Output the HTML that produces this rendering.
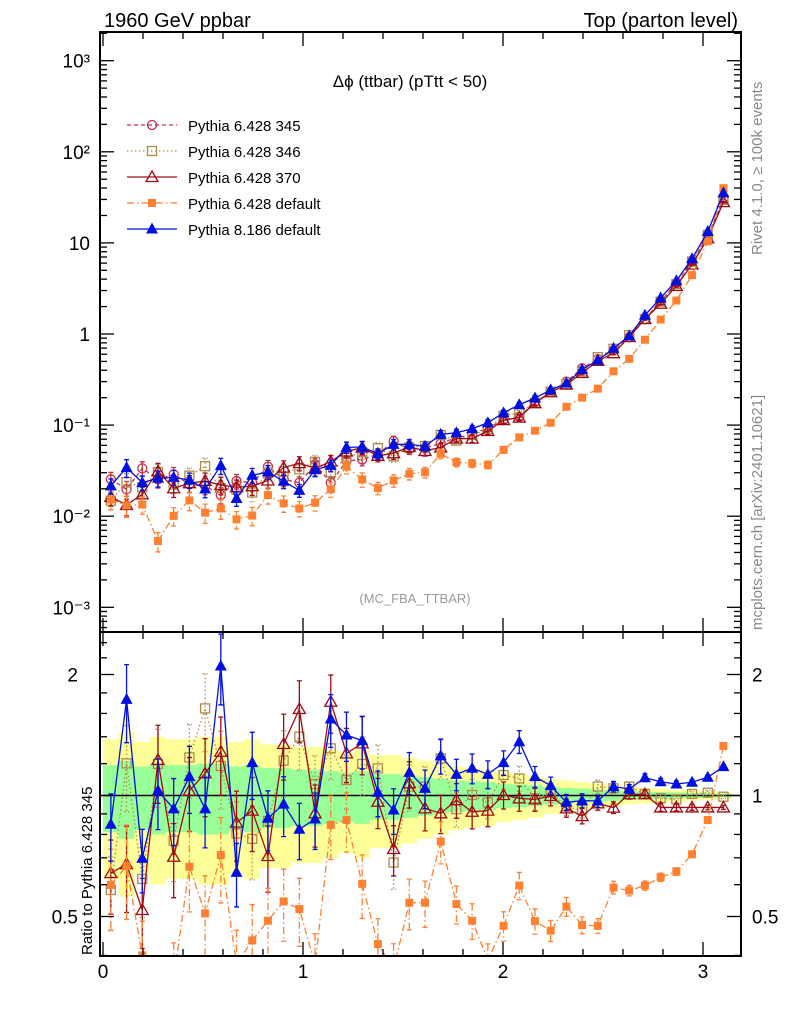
<!DOCTYPE html>
<html><head><meta charset="utf-8"><style>
html,body{margin:0;padding:0;background:#fff;width:786px;height:1024px;overflow:hidden;}
svg{display:block;font-family:"Liberation Sans",Arial,sans-serif;}
</style></head><body>
<svg id="c" width="786" height="1024" viewBox="0 0 786 1024" xmlns="http://www.w3.org/2000/svg">
<text x="104" y="27" font-size="20">1960 GeV ppbar</text>
<text x="738" y="27" font-size="20" text-anchor="end">Top (parton level)</text>
<text x="410" y="87" font-size="17" text-anchor="middle">Δϕ (ttbar) (pTtt &lt; 50)</text>
<text x="415" y="603" font-size="13" fill="#999" text-anchor="middle">(MC_FBA_TTBAR)</text>
<text transform="translate(762,255) rotate(-90)" font-size="15" fill="#888">Rivet 4.1.0, ≥ 100k events</text>
<text transform="translate(762,630) rotate(-90)" font-size="15" fill="#888">mcplots.cern.ch [arXiv:2401.10621]</text>
<text transform="translate(92,955) rotate(-90)" font-size="15">Ratio to Pythia 6.428 345</text>
<g id="bands"></g><g id="marks"></g><g id="axes"></g><g id="legend"></g>
</svg>
<script>
// ---- data ----
const nBins = 40;
const refValues = [0.0254,0.0197,0.0335,0.0254,0.0288,0.0224,0.0215,0.0171,0.0243,0.0233,0.0349,0.0254,0.0233,0.037,0.0233,0.0403,0.042,0.0477,0.0667,0.054,
 0.056,0.063,0.073,0.078,0.094,0.113,0.123,0.178,0.23,0.30,0.42,0.53,0.66,0.92,1.45,2.3,3.6,6.2,12.0,30.0];
const refRelErr = [0.19,0.22,0.18,0.2,0.19,0.19,0.2,0.2,0.18,0.19,0.17,0.17,0.16,0.16,0.15,0.14,0.15,0.13,0.13,0.12,
 0.11,0.1,0.09,0.085,0.08,0.07,0.065,0.06,0.05,0.045,0.04,0.035,0.03,0.025,0.022,0.02,0.018,0.015,0.012,0.01];
const ratio346 = [0.582,1.202,0.62,1.198,0.772,1.244,1.647,1.184,0.805,0.78,0.864,1.221,1.401,1.068,1.31,1.093,1.198,1.168,0.681,1.052,
 1.052,1.237,0.925,1.003,0.96,1.124,1.103,0.984,1.016,0.938,0.92,1.052,1.042,1.052,1.009,0.984,0.978,1.009,1.016,0.993];
const ratio370 = [0.641,0.675,0.519,1.226,0.704,1.028,1.135,1.285,0.856,0.917,0.707,1.343,1.641,0.903,1.711,1.273,1.348,0.965,0.736,1.072,
 0.929,0.903,0.974,0.911,0.917,1.003,0.984,0.978,0.997,0.929,0.889,0.956,0.933,1.007,1.007,0.934,0.934,0.934,0.934,0.934];
const ratioDefault = [0.599,0.668,0.40,0.21,0.35,0.665,0.509,0.711,0.38,0.436,0.488,0.545,0.522,0.38,0.845,0.869,0.603,0.427,0.37,0.541,
 0.541,0.768,0.537,0.488,0.39,0.474,0.597,0.487,0.461,0.529,0.476,0.474,0.59,0.58,0.597,0.626,0.647,0.714,0.869,1.328];
const ratioPy8 = [0.848,1.735,0.698,1.028,0.926,1.114,0.926,2.10,0.644,1.207,0.878,0.952,0.824,0.874,1.55,1.414,1.369,1.018,0.92,1.142,
 1.042,1.256,1.129,1.169,1.129,1.207,1.361,1.114,1.058,0.962,0.971,0.969,1.052,1.038,1.107,1.082,1.068,1.079,1.11,1.18];
const mainTickLabels = ["10³","10²","10","1","10⁻¹","10⁻²","10⁻³"];
const ratioTickLabels = ["2","1","0.5"];
const xTickLabels = ["0","1","2","3"];

// ---- scales ----
const L=100,R=741,T1=32,B1=632,B2=956;
const X = v => 103 + v*200;
const Y1 = v => 334 - 91.1*Math.log10(v);
const Y2 = r => 795.5 - 121*Math.log2(r);
const binW = Math.PI/nBins;
const NS="http://www.w3.org/2000/svg";
function mk(tag, attrs, parent){const e=document.createElementNS(NS,tag);for(const k in attrs)e.setAttribute(k,attrs[k]);parent.appendChild(e);return e;}
const svg=document.getElementById('c');
const defs=mk('defs',{},svg);
const cp1=mk('clipPath',{id:'clip1'},defs);mk('rect',{x:L,y:T1,width:R-L,height:B1-T1},cp1);
const cp2=mk('clipPath',{id:'clip2'},defs);mk('rect',{x:L,y:B1,width:R-L,height:B2-B1},cp2);

// bands
const bands=document.getElementById('bands');
function bandPath(k){let top='',bot=[];for(let i=0;i<nBins;i++){const x0=X(i*binW),x1=X((i+1)*binW);const hi=Y2(1+k*refRelErr[i]),lo=Y2(Math.max(0.05,1-k*refRelErr[i]));top+=(i?'L':'M')+x0+','+hi+'L'+x1+','+hi;bot.unshift('L'+x1+','+lo+'L'+x0+','+lo);}return top+bot.join('')+'Z';}
const yb=mk('path',{d:bandPath(2),fill:'#ffff99','clip-path':'url(#clip2)'},bands);


const gb=mk('path',{d:bandPath(1),fill:'#99ff99','clip-path':'url(#clip2)'},bands);


const unity=mk('line',{x1:L,x2:R,y1:Y2(1),y2:Y2(1),stroke:'#000','stroke-width':1.5},bands);



// series
const series=[
 {name:'Pythia 6.428 345',key:'p345',ratio:null,color:'#c0304a',dash:'4,3',marker:'circle',fill:false,errF:1.0},
 {name:'Pythia 6.428 346',key:'p346',ratio:ratio346,color:'#b08a4a',dash:'1.5,2.5',marker:'square',fill:false,errF:1.1},
 {name:'Pythia 6.428 370',key:'p370',ratio:ratio370,color:'#a00a14',dash:'',marker:'triangle',fill:false,errF:1.1},
 {name:'Pythia 6.428 default',key:'pdef',ratio:ratioDefault,color:'#ff8030',dash:'7,3,1.5,3',marker:'fsquare',fill:true,errF:1.2},
 {name:'Pythia 8.186 default',key:'py8',ratio:ratioPy8,color:'#0010e0',dash:'',marker:'ftriangle',fill:true,errF:1.0}
];
function marker(g,type,x,y,c){
 if(type==='circle')return mk('circle',{cx:x,cy:y,r:4.5,fill:'none',stroke:c,'stroke-width':1.3},g);
 if(type==='square')return mk('rect',{x:x-4.5,y:y-4.5,width:9,height:9,fill:'none',stroke:c,'stroke-width':1.3},g);
 if(type==='fsquare')return mk('rect',{x:x-4,y:y-4,width:8,height:8,fill:c},g);
 if(type==='triangle')return mk('path',{d:`M${x},${y-6}L${x+6},${y+4.5}L${x-6},${y+4.5}Z`,fill:'none',stroke:c,'stroke-width':1.3},g);
 return mk('path',{d:`M${x},${y-6.5}L${x+6},${y+4.5}L${x-6},${y+4.5}Z`,fill:c},g);
}
const marks=document.getElementById('marks');
series.forEach(s=>{
 const r=i=>s.ratio?s.ratio[i]:1;
 const v=i=>refValues[i]*r(i);
 const panels=[[Y1,v,'clip1','main']];
 if(s.ratio)panels.push([Y2,r,'clip2','ratio']);
 panels.forEach(([Y,f,clip,panel])=>{
  const g=mk('g',{'clip-path':`url(#${clip})`},marks);
  
  
  let d='';for(let i=0;i<nBins;i++){d+=(i?'L':'M')+X((i+0.5)*binW)+','+Y(f(i));}
  mk('path',{d:d,fill:'none',stroke:s.color,'stroke-width':1.3,'stroke-dasharray':s.dash},g);
  for(let i=0;i<nBins;i++){
   const x=X((i+0.5)*binW),val=f(i),e=refRelErr[i]*s.errF*val;
   const y0=Y(val+e),y1=Y(Math.max(val-e,val*0.3));
   mk('path',{d:`M${x},${y0}V${y1}M${x-2.5},${y0}H${x+2.5}M${x-2.5},${y1}H${x+2.5}`,stroke:s.color,'stroke-width':1.3,'stroke-dasharray':s.dash&&s.key!=='p345'?s.dash:''},g);
   const m=marker(g,s.marker,x,Y(val),s.color);
   
   
  }
 });
});

// axes
const axes=document.getElementById('axes');
const f1=mk('rect',{x:L,y:T1,width:R-L,height:B1-T1,fill:'none',stroke:'#000','stroke-width':2},axes);


const f2=mk('rect',{x:L,y:B1,width:R-L,height:B2-B1,fill:'none',stroke:'#000','stroke-width':2},axes);


function tick(x1,y1,x2,y2){mk('line',{x1,y1,x2,y2,stroke:'#000','stroke-width':1.3},axes);}
for(let p=-3;p<=3;p++){
 const y=Y1(Math.pow(10,p));tick(L,y,L+14,y);tick(R,y,R-14,y);
 const t=mk('text',{x:90,y:y+7,'font-size':19,'text-anchor':'end'},axes);t.textContent=mainTickLabels[3-p];
 
 
 for(let k=2;k<=9;k++){const yy=Y1(k*Math.pow(10,p));if(yy>T1&&yy<B1){tick(L,yy,L+7,yy);tick(R,yy,R-7,yy);}}
}
for(let k=2;k<=9;k++){const yy=Y1(k*1e-4);if(yy<B1){tick(L,yy,L+7,yy);tick(R,yy,R-7,yy);}}
[2,1,0.5].forEach((r,i)=>{const y=Y2(r);tick(L,y,L+14,y);tick(R,y,R-14,y);
 if(r!==1){const t=mk('text',{x:78,y:y+7,'font-size':19,'text-anchor':'end'},axes);t.textContent=ratioTickLabels[i];
 
 }
 const t2=mk('text',{x:752,y:y+7,'font-size':19},axes);t2.textContent=ratioTickLabels[i];
 
 });
[0.4,0.6,0.7,0.8,0.9,1.2,1.4,1.6,1.8,2.2,2.4].forEach(r=>{const y=Y2(r);if(y>B1&&y<B2){tick(L,y,L+7,y);tick(R,y,R-7,y);}});
for(let v=0;v<=3.2;v+=0.2){const x=X(v);if(x<L||x>R)continue;const major=Math.abs(v-Math.round(v))<1e-6;const len=major?14:7;
 tick(x,B2,x,B2-len);tick(x,B1,x,B1-len);tick(x,B1,x,B1+len);tick(x,T1,x,T1+len);}
xTickLabels.forEach((s,i)=>{const t=mk('text',{x:X(i),y:978,'font-size':19,'text-anchor':'middle'},axes);t.textContent=s;
 
 });

// legend
const lg=document.getElementById('legend');
series.forEach((s,i)=>{
 const y=125+i*26;const g=mk('g',{},lg);
 
 
 mk('line',{x1:127,x2:177,y1:y,y2:y,stroke:s.color,'stroke-width':1.3,'stroke-dasharray':s.dash},g);
 marker(g,s.marker,152,y,s.color);
 const t=mk('text',{x:188,y:y+6,'font-size':15},g);t.textContent=s.name;
});
</script>
</body></html>
